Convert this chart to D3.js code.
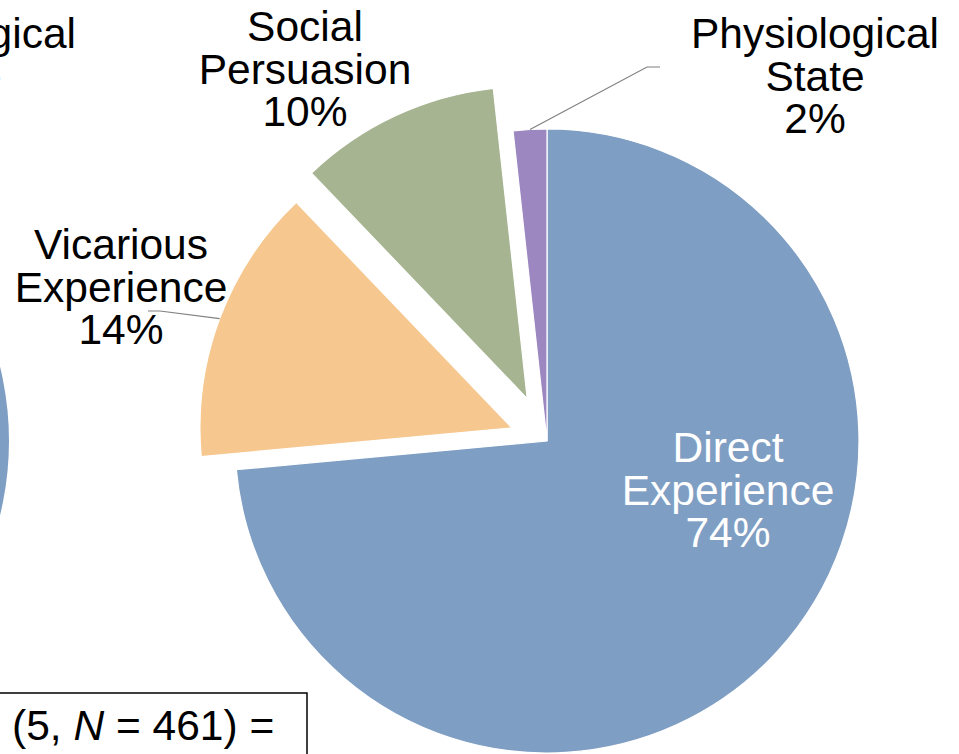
<!DOCTYPE html>
<html>
<head>
<meta charset="utf-8">
<script src="https://cdn.jsdelivr.net/npm/d3@7"></script>
<style>
  html, body { margin: 0; padding: 0; background: #fff; }
  svg { display: block; }
  text { font-family: "Liberation Sans", Arial, Helvetica, sans-serif; }
</style>
</head>
<body>
<svg width="959" height="754"></svg>
<script>
// sources of self-efficacy, counts out of N = 461
const categories = ["Direct Experience", "Vicarious Experience", "Social Persuasion", "Physiological State"];
const counts = [339, 66, 48, 8];
const labelLines = [["Direct", "Experience"], ["Vicarious", "Experience"], ["Social", "Persuasion"], ["Physiological", "State"]];

// neighbouring chart, only its edge shows in this crop
const leftCategory = "Direct Experience";
const leftLabelLines = ["Physiological", "State"];
const statText = ["(5, ", "N", " = 461) ="];

// styling
const colors = ["#7f9ec3", "#f6c890", "#a6b491", "#9d87c1"];
const explode = [0, 0.12, 0.15, 0];       // fraction of radius
const labelPos = [[728, 462], [121, 259], [305, 41], [815, 48]]; // first baseline
const labelFill = ["#fff", "#000", "#000", "#000"];
const leaders = {1: [[160, 311], [148, 311]], 3: [[647, 67], [660, 67]]};
const lineH = 42.5;
const fontSize = 42.5;

const svg = d3.select("svg");
const cx = 547, cy = 441, radius = 312;
const total = d3.sum(counts);

const pie = d3.pie().sort(null).value(d => d);
const arc = d3.arc().innerRadius(0).outerRadius(radius);

// left pie fragment
const leftG = svg.append("g").attr("transform", `translate(${9 - radius}, ${cy})`);
leftG.append("path")
  .datum({startAngle: 0, endAngle: Math.PI})
  .attr("d", arc)
  .attr("fill", colors[categories.indexOf(leftCategory)]);

svg.append("text")
  .attr("x", 76 - 124).attr("y", 48)
  .attr("text-anchor", "middle")
  .attr("font-size", fontSize)
  .selectAll("tspan")
  .data(leftLabelLines)
  .join("tspan")
    .attr("x", 76 - 124)
    .attr("dy", (d, i) => i ? lineH : 0)
    .text(d => d);

const arcs = pie(counts);
function shift(a, i) {
  const mid = (a.startAngle + a.endAngle) / 2;
  const e = explode[i] * radius;
  return [cx + e * Math.sin(mid), cy - e * Math.cos(mid)];
}

const g = svg.append("g");
g.selectAll("path")
  .data(arcs)
  .join("path")
    .attr("transform", (d, i) => `translate(${shift(d, i)})`)
    .attr("d", arc)
    .attr("fill", (d, i) => colors[i])
    .attr("stroke", "#fff")
    .attr("stroke-width", 1.2);

// leader lines
arcs.forEach((a, i) => {
  if (!leaders[i]) return;
  const [ox, oy] = shift(a, i);
  const mid = (a.startAngle + a.endAngle) / 2;
  const pts = [[ox + radius * Math.sin(mid), oy - radius * Math.cos(mid)], ...leaders[i]];
  svg.append("path")
    .attr("d", d3.line()(pts))
    .attr("fill", "none")
    .attr("stroke", "#808080")
    .attr("stroke-width", 1.2);
});

// labels
arcs.forEach((a, i) => {
  const lines = labelLines[i].concat([Math.round(a.data / total * 100) + "%"]);
  svg.append("text")
    .attr("text-anchor", "middle")
    .attr("font-size", fontSize)
    .attr("fill", labelFill[i])
    .attr("y", labelPos[i][1])
    .selectAll("tspan")
    .data(lines)
    .join("tspan")
      .attr("x", labelPos[i][0])
      .attr("dy", (d, j) => j ? lineH : 0)
      .text(d => d);
});

// statistic box
svg.append("rect")
  .attr("x", -10).attr("y", 693)
  .attr("width", 317).attr("height", 80)
  .attr("fill", "none")
  .attr("stroke", "#000")
  .attr("stroke-width", 1.5);

svg.append("text")
  .attr("x", 12).attr("y", 740)
  .attr("font-size", fontSize)
  .selectAll("tspan")
  .data(statText)
  .join("tspan")
    .attr("font-style", (d, i) => i === 1 ? "italic" : null)
    .text(d => d);
</script>
</body>
</html>
